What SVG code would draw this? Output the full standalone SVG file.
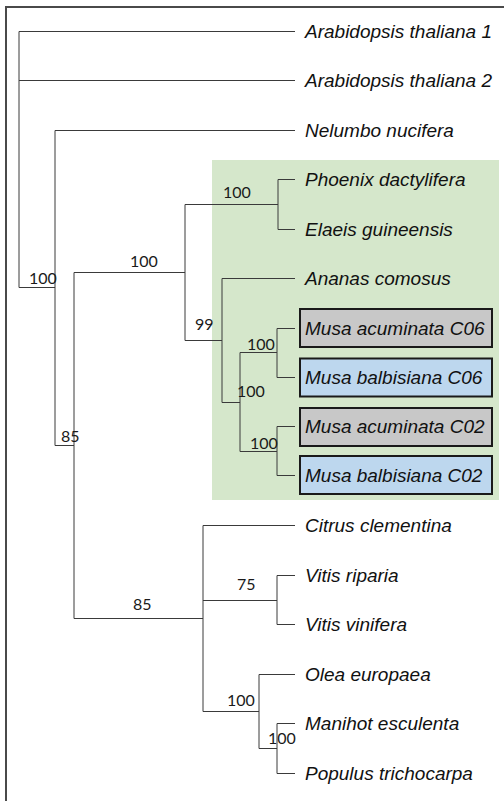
<svg xmlns="http://www.w3.org/2000/svg" width="504" height="801" viewBox="0 0 504 801">
  <style>
    .leaf { font-family: "Liberation Sans", Arial, sans-serif; font-style: italic; font-size: 19px; fill: #111; }
    .bs { font-family: Lato, "Open Sans", sans-serif; font-size: 16px; fill: #1a1a1a; }
    .edge { fill: none; stroke: #3a3a3a; stroke-width: 1; }
    .box { stroke: #1a1a1a; stroke-width: 2; }
    .acum { fill: #c8c8c8; }
    .balb { fill: #bdd7ee; }
  </style>
  <rect width="504" height="801" fill="#ffffff"/>
  <!-- outer frame, open to the right and bottom -->
  <rect x="6" y="7" width="600" height="900" fill="none" stroke="#4a4a4a" stroke-width="2"/>
  <!-- monocot clade highlight -->
  <rect id="monocot-clade" x="212" y="160" width="287" height="340" fill="#d5e7cb"/>

  <g id="connectors" class="edge">
    <!-- root -->
    <path d="M19,31.5 V287.5 M19,31.5 H295 M19,80.5 H295 M19,287.5 H55"/>
    <!-- node 55 -->
    <path d="M55,130.5 V445.5 M55,130.5 H295 M55,445.5 H74"/>
    <!-- node 74 -->
    <path d="M74,272.5 V618.5 M74,272.5 H185 M74,618.5 H203"/>
    <!-- monocots -->
    <path d="M185,204.5 V340.5 M185,204.5 H278 M185,340.5 H222"/>
    <path d="M278,179.5 V229.5 M278,179.5 H295 M278,229.5 H295"/>
    <path d="M222,278.5 V402.5 M222,278.5 H295 M222,402.5 H240"/>
    <path d="M240,352.5 V451.5 M240,352.5 H277 M240,451.5 H277"/>
    <path d="M277,328.5 V377.5 M277,328.5 H295 M277,377.5 H295"/>
    <path d="M277,426.5 V475.5 M277,426.5 H295 M277,475.5 H295"/>
    <!-- eudicots -->
    <path d="M203,525.5 V711.5 M203,525.5 H295 M203,600.5 H277 M203,711.5 H259"/>
    <path d="M277,575.5 V624.5 M277,575.5 H295 M277,624.5 H295"/>
    <path d="M259,674.5 V748.5 M259,674.5 H295 M259,748.5 H277"/>
    <path d="M277,723.5 V773.5 M277,723.5 H295 M277,773.5 H295"/>
  </g>

  <g id="bootstrap">
    <text class="bs" x="29" y="284">100</text>
    <text class="bs" x="130" y="267">100</text>
    <text class="bs" x="61" y="441.5">85</text>
    <text class="bs" x="223" y="198">100</text>
    <text class="bs" x="195" y="330">99</text>
    <text class="bs" x="247" y="349.5">100</text>
    <text class="bs" x="237" y="396.5">100</text>
    <text class="bs" x="250" y="449">100</text>
    <text class="bs" x="133" y="610">85</text>
    <text class="bs" x="237" y="590">75</text>
    <text class="bs" x="227" y="706">100</text>
    <text class="bs" x="268" y="744">100</text>
  </g>

  <g id="arabidopsis-thaliana-1"><text class="leaf" x="305" y="38.3">Arabidopsis thaliana 1</text></g>
  <g id="arabidopsis-thaliana-2"><text class="leaf" x="305" y="87.3">Arabidopsis thaliana 2</text></g>
  <g id="nelumbo-nucifera"><text class="leaf" x="305" y="137.3">Nelumbo nucifera</text></g>
  <g id="phoenix-dactylifera"><text class="leaf" x="305" y="186.3">Phoenix dactylifera</text></g>
  <g id="elaeis-guineensis"><text class="leaf" x="305" y="236.3">Elaeis guineensis</text></g>
  <g id="ananas-comosus"><text class="leaf" x="305" y="285.3">Ananas comosus</text></g>
  <g id="musa-acuminata-c06">
    <rect class="box acum" x="300" y="309" width="192" height="38"/>
    <text class="leaf" x="305" y="335.3">Musa acuminata C06</text>
  </g>
  <g id="musa-balbisiana-c06">
    <rect class="box balb" x="300" y="358.5" width="192" height="38"/>
    <text class="leaf" x="305" y="384.3">Musa balbisiana C06</text>
  </g>
  <g id="musa-acuminata-c02">
    <rect class="box acum" x="300" y="408" width="192" height="38"/>
    <text class="leaf" x="305" y="433.3">Musa acuminata C02</text>
  </g>
  <g id="musa-balbisiana-c02">
    <rect class="box balb" x="300" y="456" width="192" height="38"/>
    <text class="leaf" x="305" y="482.3">Musa balbisiana C02</text>
  </g>
  <g id="citrus-clementina"><text class="leaf" x="305" y="532.3">Citrus clementina</text></g>
  <g id="vitis-riparia"><text class="leaf" x="305" y="582.3">Vitis riparia</text></g>
  <g id="vitis-vinifera"><text class="leaf" x="305" y="631.3">Vitis vinifera</text></g>
  <g id="olea-europaea"><text class="leaf" x="305" y="681.3">Olea europaea</text></g>
  <g id="manihot-esculenta"><text class="leaf" x="305" y="730.3">Manihot esculenta</text></g>
  <g id="populus-trichocarpa"><text class="leaf" x="305" y="780.3">Populus trichocarpa</text></g>
</svg>
